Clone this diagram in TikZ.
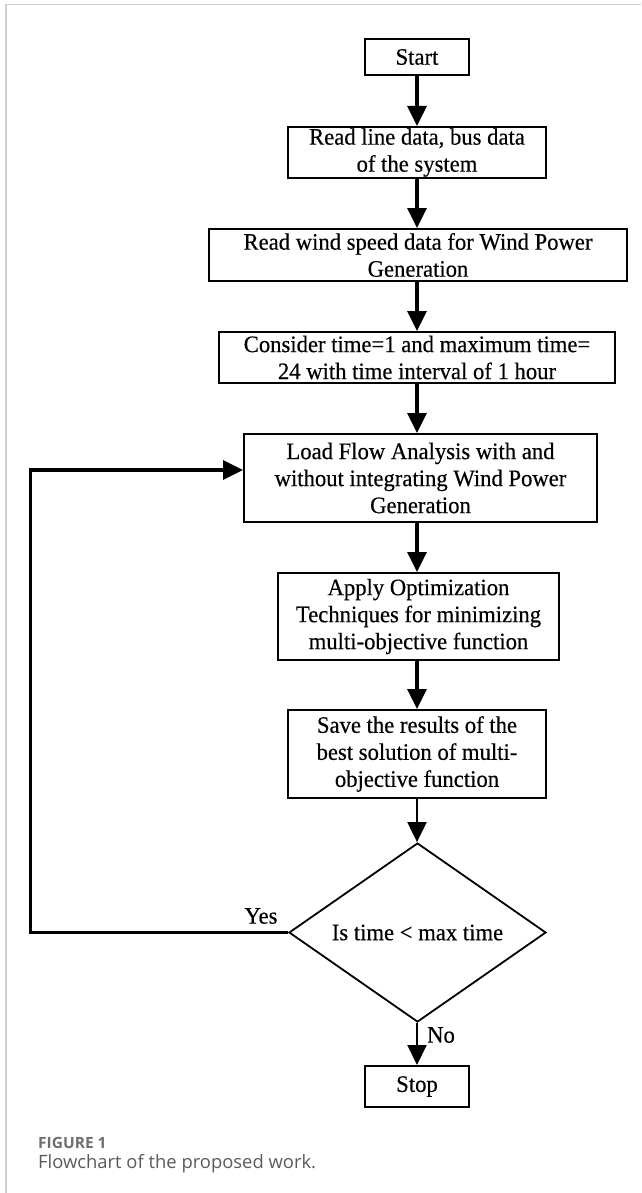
\documentclass[tikz,border=0pt]{standalone}
\usepackage{fontspec}
\setmainfont{Liberation Serif}[FakeStretch=0.96,FakeBold=0.4]
\newfontfamily\capfont{Open Sans}
\usetikzlibrary{arrows.meta,shapes.geometric}
\definecolor{framegray}{HTML}{CFCFCF}
\definecolor{capgray}{HTML}{5A5A5A}
\definecolor{figgray}{HTML}{6E6E6E}
\begin{document}
\begin{tikzpicture}[x=1pt,y=-1pt,
  every node/.style={font=\fontsize{23.6}{27}\selectfont},
  procbox/.style={draw=black,line width=2pt,inner sep=0pt,align=center},
  decbox/.style={draw=black,line width=1.8pt,diamond,aspect=1.436,inner sep=0pt,
                 minimum width=257pt,minimum height=179pt},
  flowarr/.style={line width=3.2pt,-{Triangle[length=20pt,width=19pt]}},
  thinarr/.style={line width=2pt,-{Triangle[length=20pt,width=19pt]}},
  lbl/.style={inner sep=0pt},
  capstyle/.style={anchor=base west,inner sep=0pt,text=capgray,
                   font=\capfont\fontsize{18.4}{22}\selectfont},
  figstyle/.style={anchor=base west,inner sep=0pt,text=figgray,
                   font=\capfont\bfseries\fontsize{15.5}{18}\selectfont},
]
\useasboundingbox (0,0) rectangle (641,1193);
% panel frame
\draw[framegray,line width=1.5pt] (6,1193) -- (6,4.5) -- (641,4.5);

% process boxes
\node[procbox,minimum width=104pt,minimum height=36pt] (start) at (417,57) {Start};
\node[procbox,minimum width=258pt,minimum height=51pt] (readline) at (417,152.5)
  {Read line data, bus data\\of the system};
\node[procbox,minimum width=418pt,minimum height=52pt] (readwind) at (418,255)
  {Read wind speed data for Wind Power\\Generation};
\node[procbox,minimum width=396pt,minimum height=51pt] (consider) at (417,357.5)
  {Consider time=1 and maximum time=\\24 with time interval of 1 hour};
\node[procbox,minimum width=353pt,minimum height=88pt] (loadflow) at (420.5,478)
  {Load Flow Analysis with and\\without integrating Wind Power\\Generation};
\node[procbox,minimum width=281pt,minimum height=87pt] (optim) at (418.5,616.5)
  {Apply Optimization\\Techniques for minimizing\\multi-objective function};
\node[procbox,minimum width=258pt,minimum height=88pt] (save) at (417,754)
  {Save the results of the\\best solution of multi-\\objective function};
\node[decbox] (dec) at (417.5,932.5) {Is time < max time};
\node[procbox,minimum width=104pt,minimum height=41pt] (stop) at (417,1086.5) {Stop};

% connectors
\draw[flowarr] (start.south) -- (start |- readline.north);
\draw[flowarr] (start |- readline.south) -- (start |- readwind.north);
\draw[flowarr] (start |- readwind.south) -- (start |- consider.north);
\draw[flowarr] (start |- consider.south) -- (start |- loadflow.north);
\draw[flowarr] (start |- loadflow.south) -- (start |- optim.north);
\draw[flowarr] (start |- optim.south) -- (start |- save.north);
\draw[thinarr] (start |- save.south) -- (start |- dec.north);
\draw[thinarr] (start |- dec.south) -- (start |- stop.north);

\coordinate (loopturn) at (30.5,470);
\draw[flowarr] (dec.west) -- (dec.west -| loopturn) -- (loopturn) -- (loopturn -| loadflow.west);

% labels
\node[lbl] (yes) at (261,916) {Yes};
\node[lbl] (no) at (441,1035) {No};

% caption
\node[figstyle] (figlabel) at (38,1148) {FIGURE 1};
\node[capstyle] (caption) at (38,1168) {Flowchart of the proposed work.};
\end{tikzpicture}
\end{document}
